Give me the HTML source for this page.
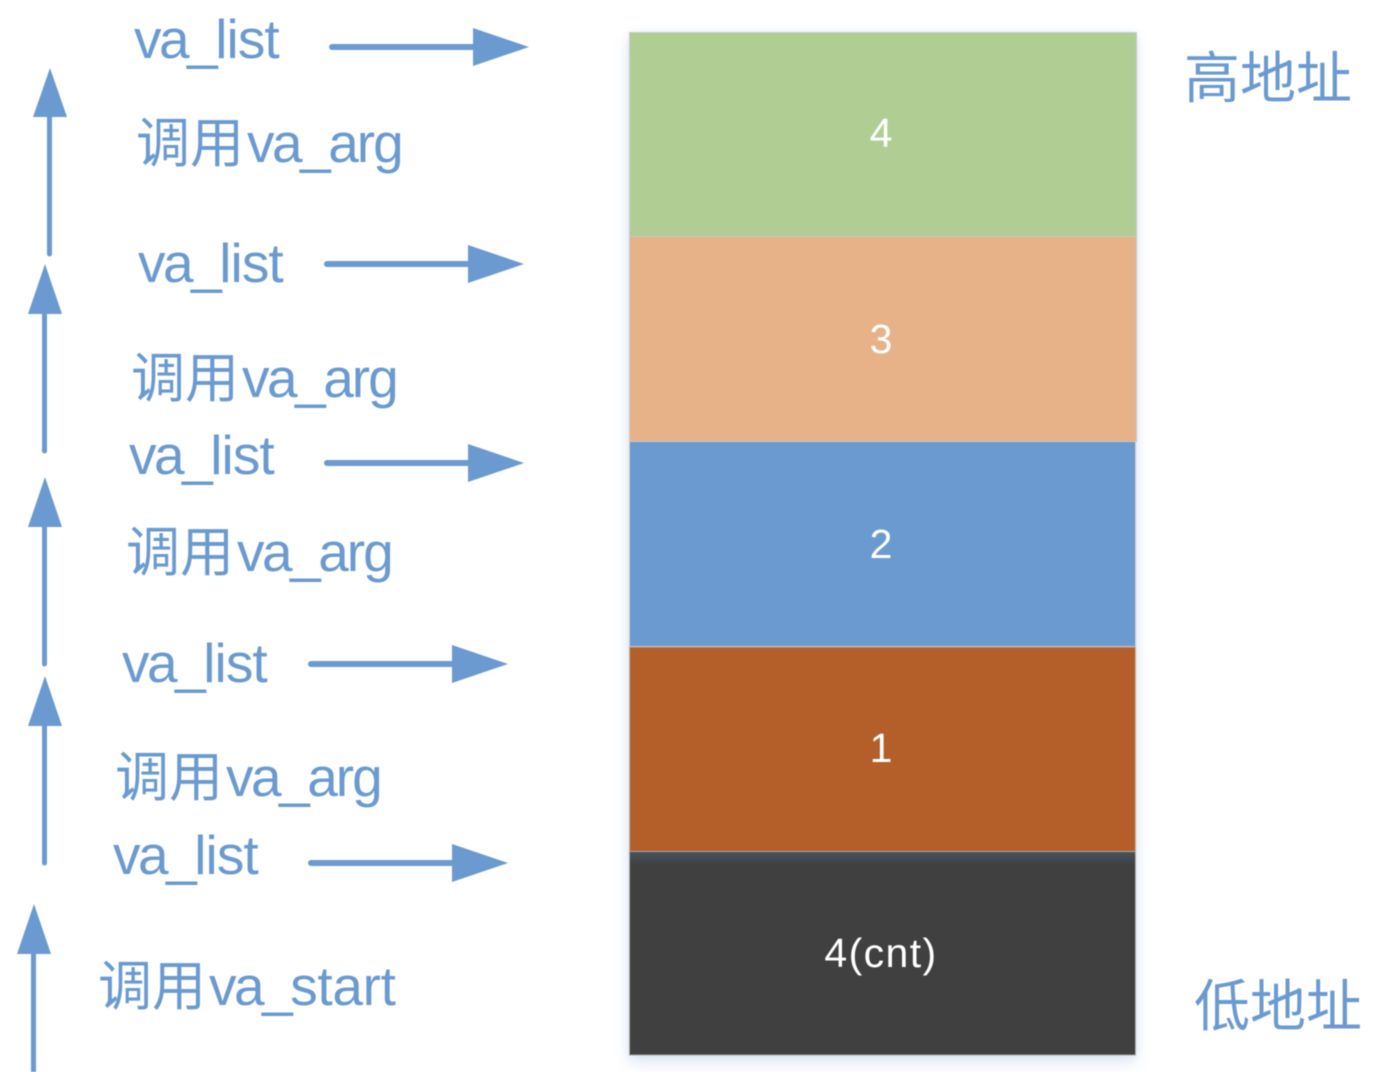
<!DOCTYPE html>
<html>
<head>
<meta charset="utf-8">
<style>
html,body{margin:0;padding:0;background:#fff;}
#stage{position:relative;width:1394px;height:1072px;overflow:hidden;background:#fff;}
#shadow{position:absolute;left:629px;top:32px;width:507px;height:1023px;box-shadow:0 8px 14px rgba(110,155,215,.22),0 0 8px rgba(110,155,215,.12);}
svg{position:absolute;left:0;top:0;filter:blur(.45px);}
.l{font-family:"Liberation Sans",sans-serif;font-size:55px;fill:#6a9ad0;}
.c{font-family:"Liberation Sans","Noto Sans CJK SC",sans-serif;font-size:54px;fill:#6a9ad0;}
.a{font-family:"Liberation Sans","Noto Sans CJK SC",sans-serif;font-size:56px;fill:#6a9ad0;}
.n{font-family:"Liberation Sans",sans-serif;font-size:41px;fill:#fff;text-anchor:middle;}
.p{letter-spacing:-2.5px;}
.ls{letter-spacing:-.9px;}
.ar{letter-spacing:-2px;}
.st{letter-spacing:-.3px;}
</style>
</head>
<body>
<div id="stage">
<div id="shadow"></div>
<svg width="1394" height="1072">
<defs>
<linearGradient id="darkTop" x1="0" y1="0" x2="0" y2="1">
<stop offset="0" stop-color="#47535f"/>
<stop offset="1" stop-color="#404040"/>
</linearGradient>
</defs>

<g>
<rect x="629.5" y="32.5" width="507" height="204" fill="#b0ce93" stroke="#c9c9c9"/>
<rect x="629.5" y="236.5" width="507" height="205" fill="#e7b288" stroke="#c9c9c9"/>
<rect x="629.5" y="441.5" width="506" height="205" fill="#6b9ad0" stroke="#c9c9c9"/>
<rect x="629.5" y="647" width="506" height="204.5" fill="#b45f2a" stroke="#c4b0a0"/>
<rect x="629.5" y="851.5" width="506" height="203.5" fill="#404040" stroke="#a8a8a8"/>
<rect x="630" y="852" width="505" height="13" fill="url(#darkTop)"/>
</g>

<text class="n" x="881" y="147">4</text>
<text class="n" x="881" y="353">3</text>
<text class="n" x="881" y="558">2</text>
<text class="n" x="881" y="762">1</text>
<text class="n" x="881" y="967" letter-spacing="1.4">4(cnt)</text>

<text class="a" x="1184" y="98">高地址</text>
<text class="a" x="1194" y="1026">低地址</text>

<text class="l" x="134" y="58"><tspan class="p">va_</tspan><tspan class="ls">list</tspan></text>
<text class="l" x="138" y="282"><tspan class="p">va_</tspan><tspan class="ls">list</tspan></text>
<text class="l" x="129" y="474"><tspan class="p">va_</tspan><tspan class="ls">list</tspan></text>
<text class="l" x="122" y="682"><tspan class="p">va_</tspan><tspan class="ls">list</tspan></text>
<text class="l" x="113" y="874"><tspan class="p">va_</tspan><tspan class="ls">list</tspan></text>

<text class="c" x="136" y="162">调用<tspan class="l p" dx="3">va_</tspan><tspan class="l ar">arg</tspan></text>
<text class="c" x="131" y="397">调用<tspan class="l p" dx="3">va_</tspan><tspan class="l ar">arg</tspan></text>
<text class="c" x="126" y="571">调用<tspan class="l p" dx="3">va_</tspan><tspan class="l ar">arg</tspan></text>
<text class="c" x="115" y="796">调用<tspan class="l p" dx="3">va_</tspan><tspan class="l ar">arg</tspan></text>
<text class="c" x="98" y="1005">调用<tspan class="l p" dx="3">va_</tspan><tspan class="l st">start</tspan></text>

<g fill="#6a9ad0" stroke="#6a9ad0" stroke-linecap="round">
<g><line x1="332" y1="47" x2="478" y2="47" stroke-width="6"/><polygon stroke="none" points="473,28 529,47 473,66"/></g>
<g><line x1="327" y1="264" x2="473" y2="264" stroke-width="6"/><polygon stroke="none" points="468,245 524,264 468,283"/></g>
<g><line x1="327" y1="463" x2="473" y2="463" stroke-width="6"/><polygon stroke="none" points="468,444 524,463 468,482"/></g>
<g><line x1="311" y1="664" x2="457" y2="664" stroke-width="6"/><polygon stroke="none" points="452,645 508,664 452,683"/></g>
<g><line x1="311" y1="863" x2="457" y2="863" stroke-width="6"/><polygon stroke="none" points="452,844 508,863 452,882"/></g>
<g><line x1="49.5" y1="110" x2="49.5" y2="254" stroke-width="5"/><polygon stroke="none" points="33,117 50,68 67,117"/></g>
<g><line x1="44.5" y1="308" x2="44.5" y2="451" stroke-width="5"/><polygon stroke="none" points="28,314 45,264 62,314"/></g>
<g><line x1="44.5" y1="520" x2="44.5" y2="664" stroke-width="5"/><polygon stroke="none" points="28,527 45,477 62,527"/></g>
<g><line x1="44.5" y1="720" x2="44.5" y2="863" stroke-width="5"/><polygon stroke="none" points="28,726 45,676 62,726"/></g>
<g><line x1="33.5" y1="948" x2="33.5" y2="1076" stroke-width="5"/><polygon stroke="none" points="17,954 34,904 51,954"/></g>
</g>
</svg>
</div>
</body>
</html>
